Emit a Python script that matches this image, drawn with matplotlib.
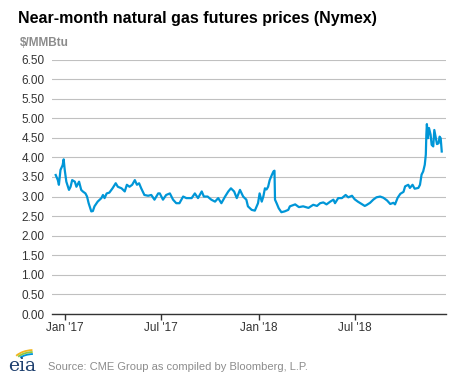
import matplotlib
matplotlib.use("Agg")
import matplotlib.pyplot as plt
from matplotlib.patches import Arc
import pandas as pd

plt.rcParams['font.family'] = ['Liberation Sans', 'DejaVu Sans']

# prix à terme du gaz naturel
dates = [
    "2016-12-15", "2016-12-19", "2016-12-21", "2016-12-24", "2016-12-28", "2016-12-30",
    "2017-01-01", "2017-01-04", "2017-01-09", "2017-01-12", "2017-01-15", "2017-01-20",
    "2017-01-23", "2017-01-28", "2017-02-01", "2017-02-04", "2017-02-09", "2017-02-12",
    "2017-02-15", "2017-02-20", "2017-02-23", "2017-02-26", "2017-03-04", "2017-03-11",
    "2017-03-14", "2017-03-17", "2017-03-21", "2017-03-26", "2017-04-01", "2017-04-07",
    "2017-04-11", "2017-04-18", "2017-04-24", "2017-04-28", "2017-05-03", "2017-05-08",
    "2017-05-13", "2017-05-17", "2017-05-21", "2017-05-25", "2017-05-31", "2017-06-07",
    "2017-06-13", "2017-06-19", "2017-06-26", "2017-06-29", "2017-07-05", "2017-07-11",
    "2017-07-18", "2017-07-24", "2017-07-30", "2017-08-05", "2017-08-12", "2017-08-18",
    "2017-08-28", "2017-09-03", "2017-09-09", "2017-09-16", "2017-09-20", "2017-09-27",
    "2017-10-04", "2017-10-11", "2017-10-17", "2017-10-23", "2017-10-30", "2017-11-05",
    "2017-11-10", "2017-11-16", "2017-11-21", "2017-11-27", "2017-12-03", "2017-12-09",
    "2017-12-12", "2017-12-19", "2017-12-25", "2017-12-31", "2018-01-03", "2018-01-07",
    "2018-01-10", "2018-01-13", "2018-01-16", "2018-01-19", "2018-01-22", "2018-01-26",
    "2018-01-29", "2018-01-31", "2018-02-01", "2018-02-04", "2018-02-08", "2018-02-13",
    "2018-02-19", "2018-02-26", "2018-03-01", "2018-03-11", "2018-03-18", "2018-03-26",
    "2018-04-05", "2018-04-14", "2018-04-21", "2018-04-27", "2018-05-03", "2018-05-09",
    "2018-05-16", "2018-05-22", "2018-05-25", "2018-05-31", "2018-06-07", "2018-06-14",
    "2018-06-19", "2018-06-26", "2018-07-01", "2018-07-07", "2018-07-14", "2018-07-20",
    "2018-07-23", "2018-07-30", "2018-08-05", "2018-08-11", "2018-08-18", "2018-08-24",
    "2018-08-31", "2018-09-06", "2018-09-12", "2018-09-15", "2018-09-20", "2018-09-25",
    "2018-10-01", "2018-10-04", "2018-10-10", "2018-10-13", "2018-10-18", "2018-10-22",
    "2018-10-29", "2018-11-01", "2018-11-04", "2018-11-07", "2018-11-10", "2018-11-12",
    "2018-11-13", "2018-11-14", "2018-11-16", "2018-11-18", "2018-11-21", "2018-11-23",
    "2018-11-26", "2018-11-28", "2018-12-01", "2018-12-03", "2018-12-06", "2018-12-08",
    "2018-12-10", "2018-12-12",
]
prices = [
    3.55, 3.42, 3.30, 3.68, 3.80, 3.95,
    3.68, 3.38, 3.17, 3.25, 3.42, 3.38,
    3.25, 3.38, 3.17, 3.13, 3.08, 3.00,
    2.83, 2.62, 2.63, 2.75, 2.87, 2.96,
    3.04, 2.96, 3.08, 3.10, 3.21, 3.34,
    3.25, 3.21, 3.13, 3.30, 3.25, 3.30,
    3.42, 3.30, 3.34, 3.21, 3.04, 3.02,
    3.04, 2.92, 3.08, 3.08, 2.92, 3.04,
    3.08, 2.92, 2.83, 2.83, 3.00, 2.96,
    2.96, 3.08, 2.96, 3.13, 3.00, 3.00,
    2.92, 2.87, 2.96, 2.83, 3.00, 3.13,
    3.21, 3.13, 2.96, 3.17, 3.00, 2.92,
    2.75, 2.66, 2.64, 2.83, 3.08, 2.87,
    3.00, 3.21, 3.18, 3.25, 3.42, 3.55,
    3.64, 3.66, 2.92, 2.83, 2.70, 2.60,
    2.62, 2.66, 2.75, 2.80, 2.73, 2.75,
    2.71, 2.79, 2.76, 2.83, 2.85, 2.80,
    2.87, 2.92, 2.83, 2.96, 2.96, 3.04,
    2.98, 3.02, 2.93, 2.87, 2.81, 2.76,
    2.78, 2.84, 2.92, 2.98, 3.00, 2.97,
    2.90, 2.81, 2.84, 2.80, 2.97, 3.07,
    3.12, 3.26, 3.30, 3.22, 3.30, 3.20,
    3.22, 3.30, 3.56, 3.64, 3.81, 4.07,
    4.58, 4.85, 4.49, 4.75, 4.58, 4.32,
    4.28, 4.70, 4.49, 4.34, 4.36, 4.53,
    4.49, 4.15,
]
tick_dates = ["2017-01-01", "2017-07-01", "2018-01-01", "2018-07-01"]
tick_labels = ["Jan '17", "Jul '17", "Jan '18", "Jul '18"]
y_ticks = [i * 0.5 for i in range(14)]

x = pd.to_datetime(dates)

fig = plt.figure(figsize=(4.77, 3.79), dpi=100)
ax = fig.add_axes([0.109, 0.1715, 0.826, 0.6715])

ax.plot(x, prices, color='#0096d7', linewidth=1.6, solid_joinstyle='round')

ax.set_xlim(pd.Timestamp("2016-12-08"), pd.Timestamp("2018-12-20"))
ax.set_ylim(0, 6.5)
ax.set_yticks(y_ticks)
ax.set_yticklabels([f"{v:.2f}" for v in y_ticks])
ax.set_xticks(pd.to_datetime(tick_dates))
ax.set_xticklabels(tick_labels)

ax.grid(axis='y', color='#c0c0c0', linewidth=0.8)
ax.set_axisbelow(True)
for s in ['top', 'right', 'left']:
    ax.spines[s].set_visible(False)
ax.spines['bottom'].set_color('#333333')
ax.spines['bottom'].set_linewidth(1.0)
ax.tick_params(axis='y', length=0, pad=5.5, labelsize=8.5, labelcolor='#333333')
ax.tick_params(axis='x', length=4, width=1, color='#333333', pad=2,
               labelsize=8.5, labelcolor='#333333')

# titre et unités
fig.text(18 / 477, 1 - 18 / 379, "Near-month natural gas futures prices (Nymex)",
         fontsize=11.5, fontweight='bold', color='#000000', va='center', ha='left')
fig.text(20 / 477, 1 - 43 / 379, "$/MMBtu", fontsize=8.5, fontweight='bold',
         color='#8c8c8c', va='center', ha='left')

# source et logo
fig.text(48 / 477, 1 - 367 / 379, "Source: CME Group as compiled by Bloomberg, L.P.",
         fontsize=8, color='#8c8c8c', va='center', ha='left')
fig.text(8 / 477, 1 - 366 / 379, "eia", fontsize=13.5, family='DejaVu Serif',
         color='#1d3f6e', va='center', ha='left')
for c, w, h in [('#f2b51c', 44, 28), ('#8cc63f', 40, 24), ('#0096d7', 36, 20)]:
    arc = Arc((34 / 477, 1 - 364 / 379), w / 477, h / 379, theta1=95, theta2=150,
              transform=fig.transFigure, color=c, linewidth=1.3)
    fig.add_artist(arc)

fig.savefig("out.png", dpi=100)
